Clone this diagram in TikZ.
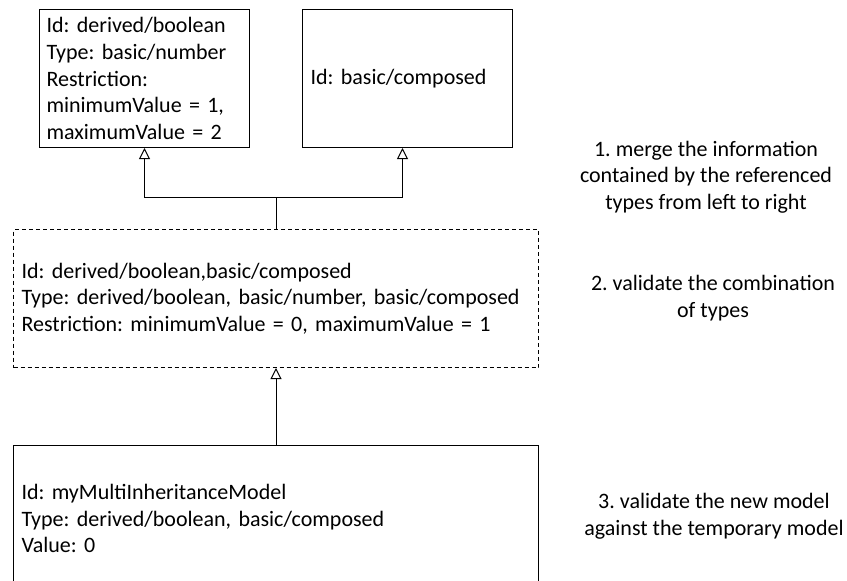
\documentclass[tikz,border=0pt]{standalone}
\usepackage{fontspec}
\setmainfont{Carlito}
\usetikzlibrary{arrows.meta}
\frenchspacing
\begin{document}
\begin{tikzpicture}[x=1pt,y=-1pt,
  every node/.style={font=\fontsize{22}{26.7}\selectfont},
  box/.style={draw=black, line width=1pt, rectangle, inner ysep=0pt, align=left, anchor=north west},
  dbox/.style={box, dash pattern=on 4pt off 3pt},
  note/.style={align=center, inner sep=0pt},
  inh/.style={draw=black, line width=1pt, -{Triangle[open, length=11pt, width=11pt]}}
]
\clip (0,0) rectangle (847,581);

% base types
\node[box, minimum width=210pt, minimum height=138pt, inner xsep=7pt, text width=196pt] (A) at (39,9)
  {Id: derived/boolean\\Type: basic/number\\Restriction:\\minimumValue = 1,\\maximumValue = 2};
\node[box, minimum width=210pt, minimum height=138pt, inner xsep=8pt, text width=194pt] (B) at (302,9)
  {Id: basic/composed};

% temporary merged model
\node[dbox, minimum width=525pt, minimum height=138pt, inner xsep=8pt, text width=509pt] (D) at (13,229)
  {Id: derived/boolean,basic/composed\\Type: derived/boolean, basic/number, basic/composed\\Restriction: minimumValue = 0, maximumValue = 1};

% new model
\node[box, minimum width=525pt, minimum height=146pt, inner xsep=8pt, text width=509pt] (E) at (13,445)
  {Id: myMultiInheritanceModel\\Type: derived/boolean, basic/composed\\Value: 0};

% inheritance connectors
\coordinate (j) at (D.north |- 0,197);
\coordinate (bt) at ([xshift=-5pt]B.south);
\draw[inh] (j) -| (A.south);
\draw[inh] (j) -| (bt);
\draw[line width=1pt] (j) -- (D.north);
\draw[inh] (E.north) -- (D.south);

% steps
\node[note] (s1) at (706,177) {1. merge the information\\contained by the referenced\\types from left to right};
\node[note] (s2) at (713,298) {2. validate the combination\\of types};
\node[note] (s3) at (714,516) {3. validate the new model\\against the temporary model};
\end{tikzpicture}
\end{document}
